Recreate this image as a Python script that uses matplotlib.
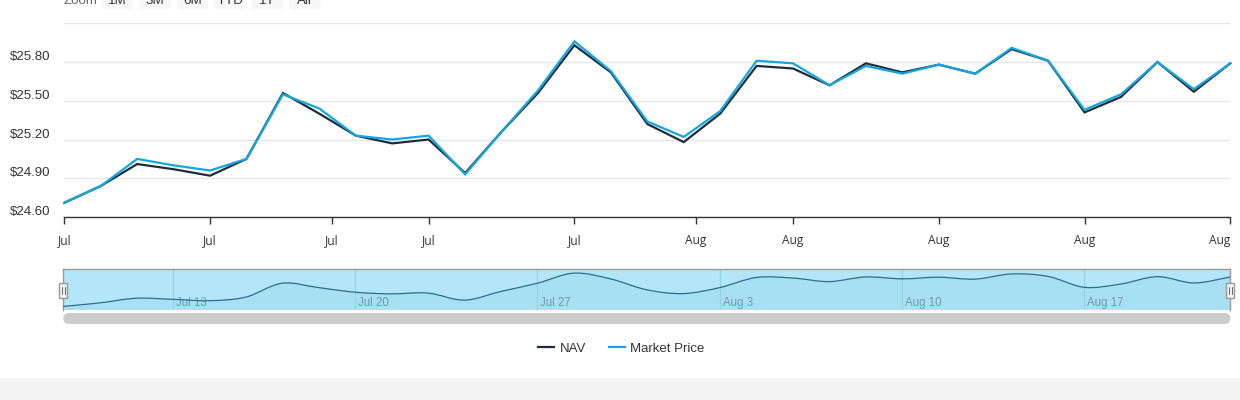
import numpy as np
import matplotlib
matplotlib.use("Agg")
import matplotlib.pyplot as plt
from matplotlib.path import Path
from matplotlib.patches import PathPatch, FancyBboxPatch, Rectangle
from matplotlib.lines import Line2D
import matplotlib.transforms as mtrans
import datetime as dt

# ---------------- data ----------------
trade_dates = ["2020-07-08", "2020-07-09", "2020-07-10", "2020-07-13", "2020-07-14",
               "2020-07-15", "2020-07-16", "2020-07-17", "2020-07-20", "2020-07-21",
               "2020-07-22", "2020-07-23", "2020-07-24", "2020-07-27", "2020-07-28",
               "2020-07-29", "2020-07-30", "2020-07-31", "2020-08-03", "2020-08-04",
               "2020-08-05", "2020-08-06", "2020-08-07", "2020-08-10", "2020-08-11",
               "2020-08-12", "2020-08-13", "2020-08-14", "2020-08-17", "2020-08-18",
               "2020-08-19", "2020-08-20", "2020-08-21"]
nav = [24.71, 24.84, 25.01, 24.97, 24.92, 25.05, 25.56, 25.40, 25.23, 25.17,
       25.20, 24.94, 25.26, 25.56, 25.93, 25.72, 25.32, 25.18, 25.40, 25.77,
       25.75, 25.62, 25.79, 25.72, 25.78, 25.71, 25.90, 25.81, 25.41, 25.53,
       25.80, 25.57, 25.79]
market = [24.71, 24.84, 25.05, 25.00, 24.96, 25.05, 25.55, 25.44, 25.23, 25.20,
          25.23, 24.93, 25.26, 25.58, 25.96, 25.73, 25.34, 25.22, 25.42, 25.81,
          25.79, 25.62, 25.77, 25.71, 25.78, 25.71, 25.91, 25.81, 25.43, 25.55,
          25.80, 25.59, 25.79]
series_names = ["NAV", "Market Price"]
xtick_dates = ["2020-07-08", "2020-07-14", "2020-07-18", "2020-07-22", "2020-07-28",
               "2020-08-01", "2020-08-05", "2020-08-11", "2020-08-17", "2020-08-21"]
xtick_labels = ["Jul", "Jul", "Jul", "Jul", "Jul", "Aug", "Aug", "Aug", "Aug", "Aug"]
ytick_values = [24.60, 24.90, 25.20, 25.50, 25.80, 26.10]
ytick_labels = ["$24.60", "$24.90", "$25.20", "$25.50", "$25.80", ""]
nav_tick_dates = ["2020-07-13", "2020-07-20", "2020-07-27", "2020-08-03", "2020-08-10", "2020-08-17"]
nav_tick_labels = ["Jul 13", "Jul 20", "Jul 27", "Aug 3", "Aug 10", "Aug 17"]
zoom_buttons = ["1M", "3M", "6M", "YTD", "1Y", "All"]

# ---------------- helpers ----------------
W, H = 1240, 400
NAV_C = "#1f2d3b"
MP_C = "#12a7e0"

def dnum(s):
    return dt.date.fromisoformat(s).toordinal()

td = np.array([dnum(s) for s in trade_dates], dtype=float)
idx = np.arange(len(td), dtype=float)
def ordinal(s):
    return float(np.interp(dnum(s), td, idx))

def rect(l, t, r, b):
    return [l / W, 1 - b / H, (r - l) / W, (b - t) / H]

fig = plt.figure(figsize=(W / 100, H / 100), dpi=100)
fig.patch.set_facecolor("white")

# bottom grey band
fig.patches.append(Rectangle((0, 0), 1, 22 / H, transform=fig.transFigure,
                             facecolor="#f4f4f4", edgecolor="none", zorder=0))

# ---------------- main chart ----------------
ax = fig.add_axes(rect(64.3, 23.3, 1230.3, 217.0))
ax.set_xlim(0, len(td) - 1)
ax.set_ylim(ytick_values[0], ytick_values[-1])
for s in ["top", "right", "left"]:
    ax.spines[s].set_visible(False)
ax.spines["bottom"].set_color("#333333")
ax.spines["bottom"].set_linewidth(1.0)
ax.set_yticks(ytick_values)
ax.set_yticklabels([])
ax.tick_params(axis="y", length=0)
ax.grid(axis="y", color="#e6e6e6", linewidth=1.0)
ax.set_axisbelow(True)
xt = [ordinal(s) for s in xtick_dates]
ax.set_xticks(xt)
ax.set_xticklabels(xtick_labels, fontfamily="Open Sans", fontsize=8.6, color="#333333")
ax.tick_params(axis="x", length=5, width=1, color="#333333", pad=7.5)
ax.get_xticklabels()[-1].set_horizontalalignment("right")
ax.get_xticklabels()[-1].set_x(xt[-1] + 0.03)

ax.plot(idx, nav, color=NAV_C, lw=1.6, clip_on=False, zorder=3, solid_joinstyle="miter")
ax.plot(idx, market, color=MP_C, lw=1.6, clip_on=False, zorder=4, solid_joinstyle="miter")

ytr = mtrans.offset_copy(ax.get_yaxis_transform(), fig=fig, x=0, y=5, units="dots")
ylab_tr = mtrans.blended_transform_factory(fig.transFigure, ytr)
for v, lab in zip(ytick_values, ytick_labels):
    if lab:
        fig.text(10 / W, v, lab, transform=ylab_tr, ha="left", va="center",
                 fontfamily="Liberation Sans", fontsize=9.5, color="#333333")

# zoom buttons (cut at top)
fig.text(64 / W, 1 - 4 / H, "Zoom", ha="left", va="baseline", fontfamily="Liberation Sans",
         fontsize=9.6, color="#666666")
bx0, bw, bgap = 102, 31.5, 5.9
for i, b in enumerate(zoom_buttons):
    l = bx0 + i * (bw + bgap)
    fig.patches.append(FancyBboxPatch((l / W, 1 - 9.5 / H), bw / W, 22 / H,
                                      boxstyle="round,pad=0,rounding_size=0.004",
                                      transform=fig.transFigure, facecolor="#f7f7f7",
                                      edgecolor="none", zorder=1))
    fig.text((l + bw / 2) / W, 1 - 4 / H, b, ha="center", va="baseline",
             fontfamily="Liberation Sans", fontsize=9.6, color="#333333")

# ---------------- navigator ----------------
nx = fig.add_axes(rect(63.3, 269.3, 1230.3, 309.7))
ylo, yhi = 24.59, 26.07
nx.set_xlim(0, len(td) - 1)
nx.set_ylim(ylo, yhi)
nx.set_facecolor("#b3e6f8")
nx.set_xticks([])
nx.set_yticks([])
for s in ["top", "left", "right"]:
    nx.spines[s].set_color("#999999")
    nx.spines[s].set_linewidth(1.0)
nx.spines["bottom"].set_visible(False)

# smooth spline through NAV values
P = np.column_stack([idx, np.array(nav)])
verts = [P[0]]
codes = [Path.MOVETO]
n = len(P)
for i in range(n - 1):
    p0 = P[i - 1] if i > 0 else P[i]
    p1 = P[i]
    p2 = P[i + 1]
    p3 = P[i + 2] if i + 2 < n else P[i + 1]
    c1 = p1 + (p2 - p0) / 6.0
    c2 = p2 - (p3 - p1) / 6.0
    verts += [c1, c2, p2]
    codes += [Path.CURVE4] * 3
line_path = Path(verts, codes)
fill_verts = [(idx[0], ylo)] + verts + [(idx[-1], ylo), (idx[0], ylo)]
fill_codes = [Path.MOVETO, Path.LINETO] + codes[1:] + [Path.LINETO, Path.CLOSEPOLY]
nx.add_patch(PathPatch(Path(fill_verts, fill_codes), facecolor="#a8dff3", edgecolor="none", zorder=1))
nx.add_patch(PathPatch(line_path, facecolor="none", edgecolor="#2f6d8f", lw=0.9, zorder=3))

ntr = mtrans.offset_copy(nx.transData, fig=fig, x=3, y=0, units="dots")
nlab_tr = mtrans.blended_transform_factory(ntr, nx.transAxes)
for s, lab in zip(nav_tick_dates, nav_tick_labels):
    xp = ordinal(s)
    nx.axvline(xp, color="#98d0e4", lw=0.9, zorder=2)
    nx.text(xp, 0.17, lab, transform=nlab_tr, ha="left", va="center",
            fontfamily="Liberation Sans", fontsize=8.3, color="#6e9ab3", zorder=2)

# handles
for cx in (63.3, 1230.3):
    fig.patches.append(Rectangle(((cx - 4) / W, 1 - 297.7 / H), 8 / W, 15 / H,
                                 transform=fig.transFigure, facecolor="#f2f2f2",
                                 edgecolor="#999999", lw=1.0, zorder=5))
    for dx in (-1.2, 1.2):
        fig.lines.append(Line2D([(cx + dx) / W] * 2, [1 - 294 / H, 1 - 286.5 / H],
                                transform=fig.transFigure, color="#333333", lw=0.5, zorder=6))

# scrollbar
fig.patches.append(FancyBboxPatch((63.3 / W, 1 - 324 / H), (1230.3 - 63.3) / W, 11 / H,
                                  boxstyle="round,pad=0,rounding_size=0.0045",
                                  mutation_aspect=W / H,
                                  transform=fig.transFigure, facecolor="#cccccc",
                                  edgecolor="none", zorder=1))

# legend
handles = [Line2D([], [], color=NAV_C, lw=1.6), Line2D([], [], color=MP_C, lw=1.6)]
leg = fig.legend(handles, series_names, loc="center", bbox_to_anchor=(0.5012, 1 - 348.5 / H),
                 ncol=2, frameon=False, handlelength=1.2, handletextpad=0.4,
                 columnspacing=1.75, prop={"family": "Liberation Sans", "size": 9.5})
for t in leg.get_texts():
    t.set_color("#333333")

fig.savefig("out.png", dpi=100)
